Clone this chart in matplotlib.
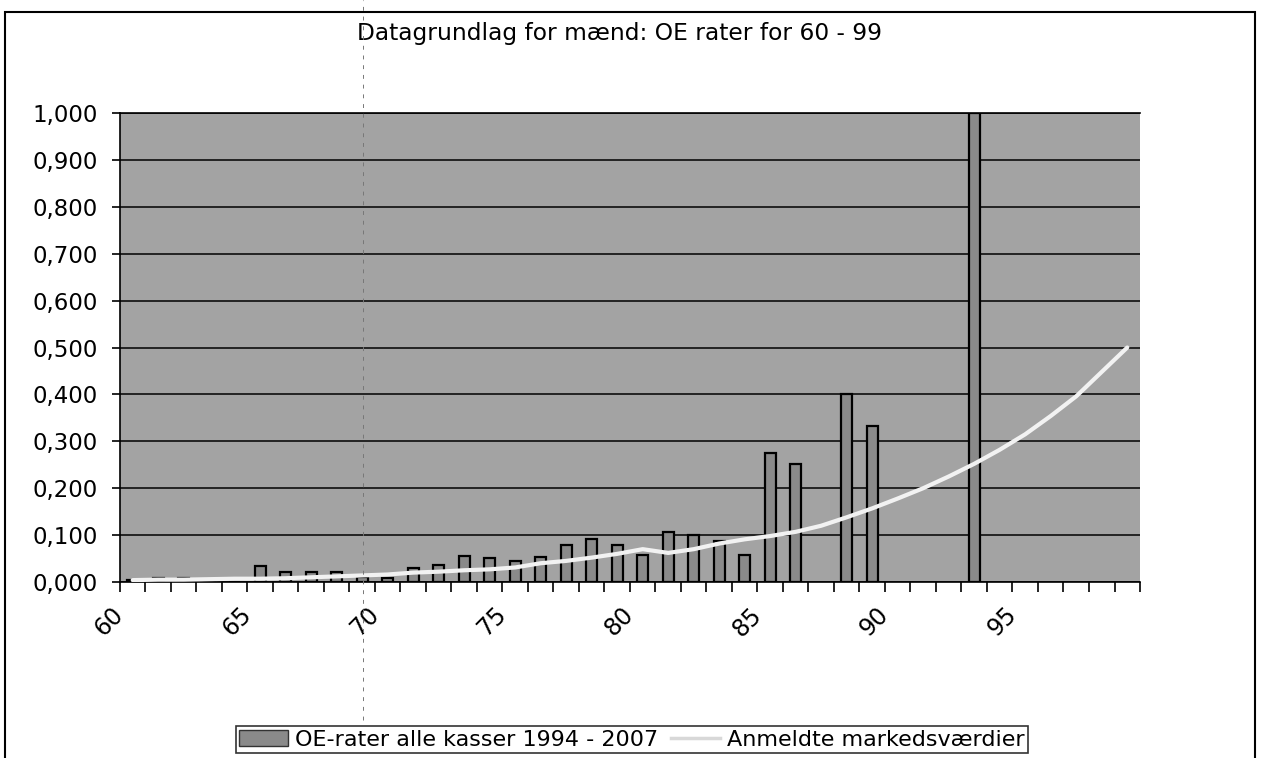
import matplotlib
matplotlib.use("agg")
import matplotlib.pyplot as plt
from matplotlib.patches import Rectangle, Patch
from matplotlib.lines import Line2D
import numpy as np

# data
ages = list(range(60, 100))
oe_rates = [0.004, 0.008, 0.008, 0.003, 0.001, 0.034, 0.022, 0.022, 0.022, 0.011,
            0.009, 0.030, 0.037, 0.055, 0.051, 0.045, 0.053, 0.078, 0.091, 0.078,
            0.058, 0.107, 0.100, 0.087, 0.058, 0.274, 0.252, 0.0, 0.401, 0.333,
            0.0, 0.0, 0.0, 1.000, 0.0, 0.0, 0.0, 0.0, 0.0, 0.0]
market = [0.004, 0.005, 0.005, 0.006, 0.007, 0.007, 0.008, 0.010, 0.012, 0.014,
          0.016, 0.020, 0.022, 0.025, 0.027, 0.031, 0.040, 0.045, 0.052, 0.060,
          0.070, 0.062, 0.070, 0.082, 0.091, 0.098, 0.107, 0.120, 0.138, 0.157,
          0.178, 0.200, 0.225, 0.252, 0.282, 0.315, 0.354, 0.396, 0.448, 0.500]
tick_ages = [60, 65, 70, 75, 80, 85, 90, 95]
y_ticks = [i / 10 for i in range(11)]

title = "Datagrundlag for mænd: OE rater for 60 - 99"
bar_label = "OE-rater alle kasser 1994 - 2007"
line_label = "Anmeldte markedsværdier"

plt.rcParams['font.family'] = ['DejaVu Sans']

fig = plt.figure(figsize=(12.64, 7.58), dpi=100)
ax = fig.add_axes([0.0949, 0.2322, 0.807, 0.6187])

ax.set_facecolor("#a3a3a3")
x = np.array(ages) + 0.5
rates = np.array(oe_rates)
keep = rates > 0
ax.bar(x[keep], rates[keep], width=0.43, color="#8a8a8a",
       edgecolor="black", linewidth=1.6, zorder=3)
ax.plot(x, market, color="#f2f2f2", linewidth=3, zorder=4,
        solid_capstyle="round")

ax.set_xlim(60, 100)
ax.set_ylim(0, 1.0)
ax.set_yticks(y_ticks)
ax.set_yticklabels([f"{v:.3f}".replace(".", ",") for v in y_ticks], fontsize=16.5)
ax.set_xticks(range(60, 101), minor=True)
ax.set_xticks(tick_ages)
ax.set_xticklabels([str(a) for a in tick_ages], fontsize=17, rotation=45,
                   ha="right", va="center", rotation_mode="anchor")
ax.tick_params(axis="x", which="both", direction="out", length=7, width=1.2, pad=14)
ax.tick_params(axis="y", direction="out", length=6, width=1.2, pad=10)

ax.yaxis.grid(True, color="black", linewidth=1.1, zorder=1)
ax.set_axisbelow(True)
ax.spines["right"].set_visible(False)
for side in ["left", "bottom", "top"]:
    ax.spines[side].set_linewidth(1.2)

fig.text(0.49, 0.956, title, ha="center", va="center", fontsize=16.8)

handles = [Patch(facecolor="#8a8a8a", edgecolor="#333333", linewidth=1),
           Line2D([0], [0], color="#d8d8d8", linewidth=2.5)]
leg = fig.legend(handles, [bar_label, line_label], loc="center",
                 bbox_to_anchor=(0.5, 0.024), ncol=2, fontsize=16,
                 frameon=True, fancybox=False, handlelength=2.2,
                 handletextpad=0.3, columnspacing=0.6, borderpad=0.15)
leg.get_frame().set_edgecolor("black")
leg.get_frame().set_linewidth(1.2)

# outer chart border
fig.add_artist(Rectangle((0.004, -0.01), 0.989, 0.994, transform=fig.transFigure,
                         fill=False, edgecolor="black", linewidth=1.5))
# faint fold mark from the scan
fig.add_artist(Line2D([0.287, 0.287], [0.05, 1.0], transform=fig.transFigure,
                      color="#777777", linewidth=0.7, linestyle=(0, (4, 6)),
                      zorder=5))

fig.savefig("out.png", dpi=100, facecolor="white")
plt.close(fig)
